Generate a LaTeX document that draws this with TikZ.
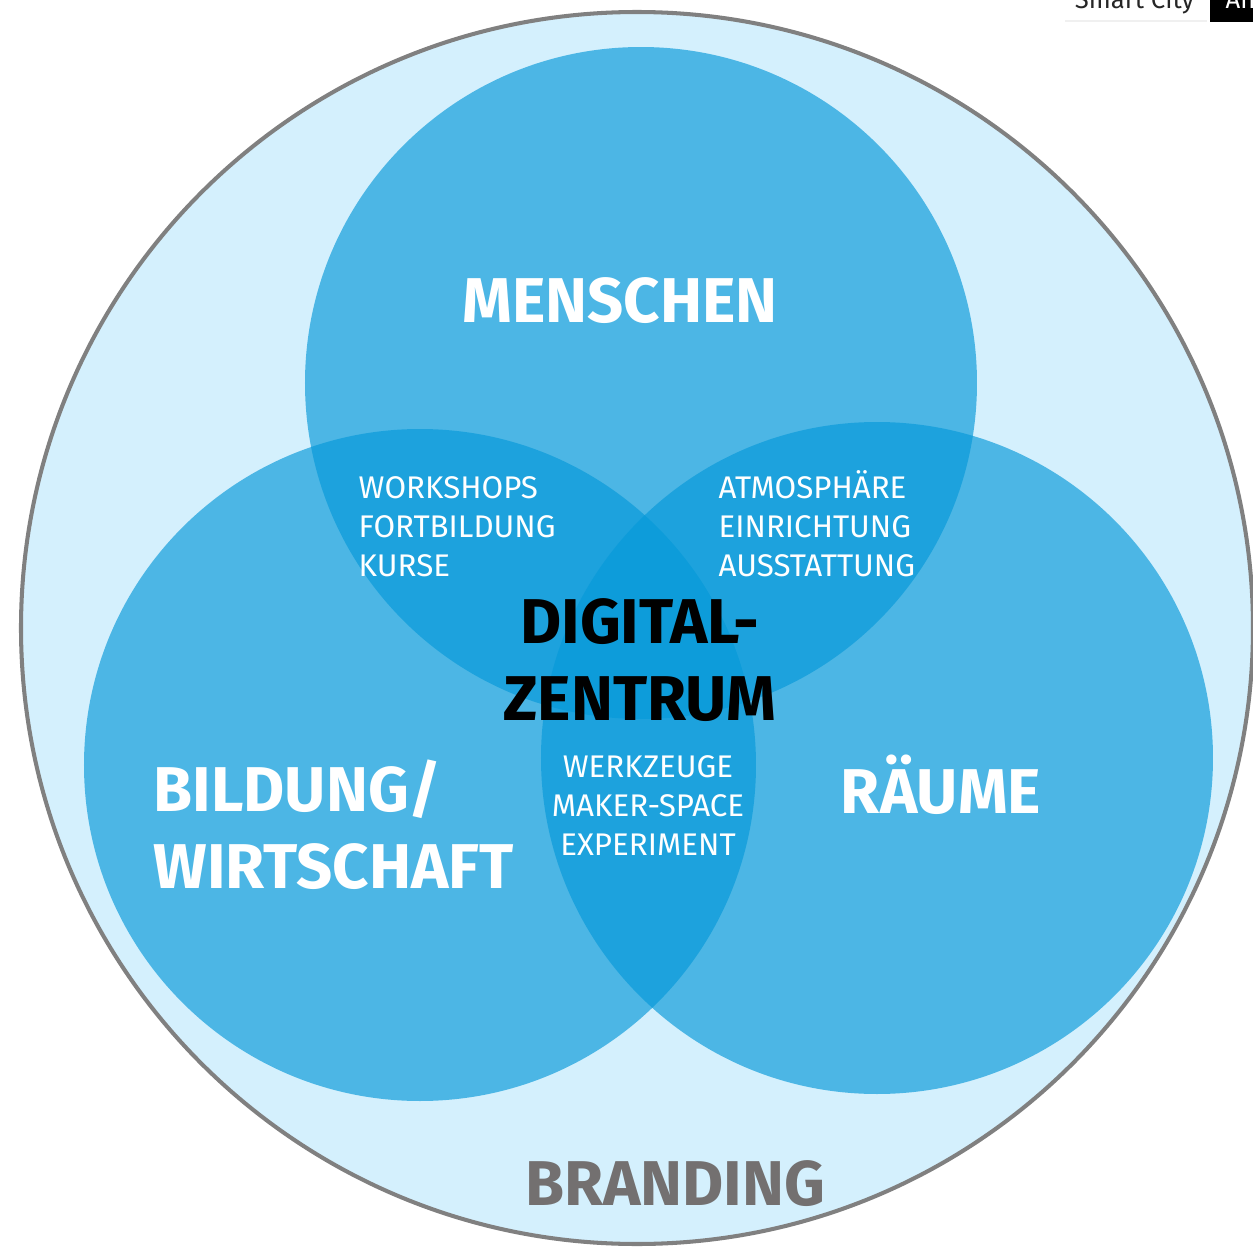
\documentclass[tikz,border=0pt]{standalone}
\usepackage{fontspec}
\setmainfont{Fira Sans}
\definecolor{branding}{HTML}{D4F0FD}
\definecolor{ring}{HTML}{808080}
\definecolor{venn}{HTML}{0699D9}
\definecolor{brandtext}{HTML}{737070}
\begin{document}
\begin{tikzpicture}[x=0.01cm,y=-0.01cm,
		title/.style={inner sep=0pt,white,font=\fontsize{18}{21.8}\selectfont\bfseries},
		list/.style={inner sep=0pt,white,font=\fontsize{8.9}{11}\selectfont}]
		\pgfmathsetmacro{\R}{616}
		\pgfmathsetmacro{\r}{336}
		\useasboundingbox (0,0) rectangle (1253,1248);
		\clip (0,0) rectangle (1253,1248);
		\coordinate (O) at (637,628);
		\coordinate (M) at (641,383);
		\coordinate (B) at (420,765);
		\coordinate (R) at (877,758);
		\draw[ring,line width=1.15pt,fill=branding] (O) circle (\R);
		\begin{scope}[venn,opacity=.66]
			\fill (M) circle (\r);
			\fill (B) circle (\r);
			\fill (R) circle (\r);
		\end{scope}
		% base = Grundlinie der letzten Zeile
		\node[title,anchor=base] (menschen) at (620,322) {MENSCHEN};
		\node[list,anchor=base west,align=left] (workshops) at (358,576) {WORKSHOPS\\FORTBILDUNG\\KURSE};
		\node[list,anchor=base west,align=left] (atmosphaere) at (718,576) {ATMOSPHÄRE\\EINRICHTUNG\\AUSSTATTUNG};
		\node[title,black,anchor=base,align=center] (digital) at (640,720) {DIGITAL-\\ZENTRUM};
		\node[list,anchor=base,align=center] (werkzeuge) at (648,855) {WERKZEUGE\\MAKER-SPACE\\EXPERIMENT};
		\node[title,anchor=base west,align=left] (bildung) at (153,888) {BILDUNG/\\WIRTSCHAFT};
		\node[title,anchor=base] (raeume) at (941,813) {RÄUME};
		\node[title,brandtext,anchor=base] (brandingtext) at (675,1205) {BRANDING};
		% Kopfzeile oben rechts
		\draw[gray!12,line width=.3pt] (1065,21)--(1207,21);
		\node[inner sep=0pt,anchor=base east,font=\fontsize{7.3}{9}\selectfont,black!85] (smart) at (1195,8) {Smart City};
		\fill[black] (1210,-5) rectangle (1253,22);
		\node[inner sep=0pt,anchor=base west,font=\fontsize{7.3}{9}\selectfont,white] (an) at (1225,8) {An};
	\end{tikzpicture}
\end{document}
